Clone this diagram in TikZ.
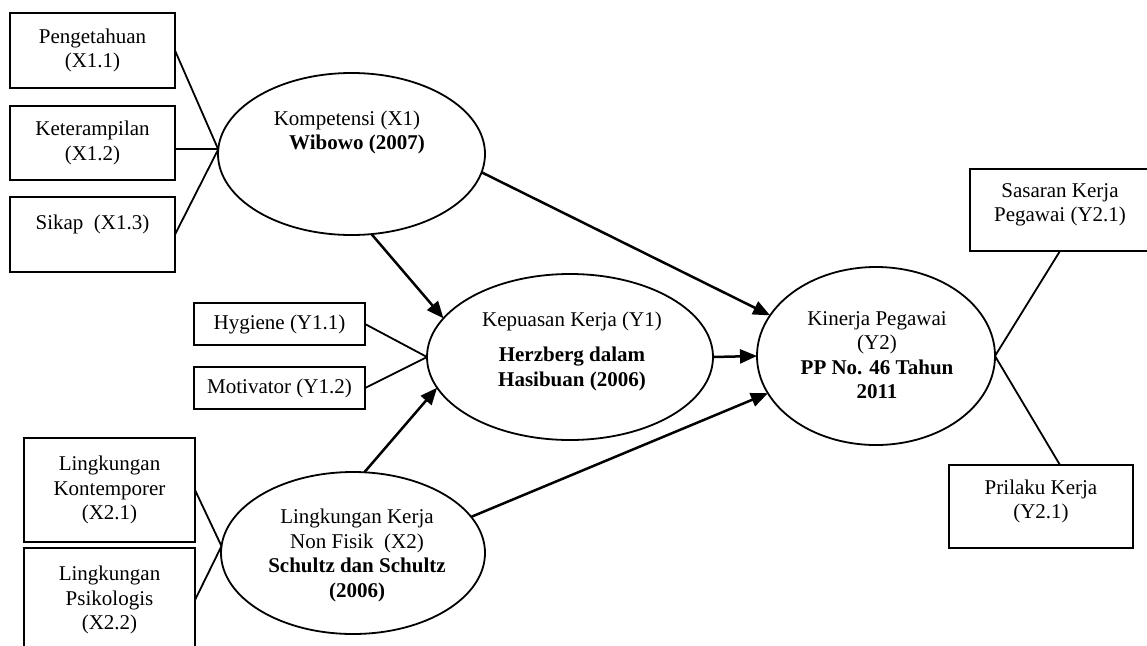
\documentclass[tikz,border=0pt]{standalone}
\usepackage{fontspec}
\setmainfont{Liberation Serif}
\usetikzlibrary{arrows.meta,shapes.geometric}
\begin{document}
\begin{tikzpicture}[x=1pt,y=-1pt,
  box/.style={draw, line width=2pt, rectangle, inner sep=0pt, outer sep=0pt, align=center, font=\fontsize{21}{24.5}\selectfont},
  ell/.style={draw, line width=1.8pt, ellipse, inner sep=0pt, outer sep=0pt},
  txt/.style={align=center, inner sep=0pt, font=\fontsize{21}{24.5}\selectfont},
  link/.style={line width=1.8pt},
  arr/.style={line width=2.5pt, -{Triangle[length=17pt,width=14pt]}}]
\useasboundingbox (0,0) rectangle (1147,645);
% indicator boxes
\node[box, minimum width=165pt, minimum height=75pt] (pen) at (92.5,50.5) {Pengetahuan\\(X1.1)};
\node[box, minimum width=165pt, minimum height=74pt] (ket) at (92.5,143) {Keterampilan\\(X1.2)};
\node[box, minimum width=165pt, minimum height=75pt] (sik) at (92.5,234.5) {Sikap~~(X1.3)\\\mbox{}};
\node[box, minimum width=171pt, minimum height=42pt] (hyg) at (279.5,324) {Hygiene (Y1.1)};
\node[box, minimum width=171pt, minimum height=42pt] (mot) at (279.5,388) {Motivator (Y1.2)};
\node[box, minimum width=171pt, minimum height=104pt] (kon) at (109.5,490) {Lingkungan\\Kontemporer\\(X2.1)};
\node[box, minimum width=171pt, minimum height=104pt] (psi) at (109.5,600) {Lingkungan\\Psikologis\\(X2.2)};
\node[box, minimum width=180pt, minimum height=82pt] (sas) at (1060,210) {Sasaran Kerja\\Pegawai (Y2.1)\\[-10pt]\mbox{}};
\node[box, minimum width=184pt, minimum height=83pt] (pri) at (1041,506.5) {Prilaku Kerja\\(Y2.1)\\[-10pt]\mbox{}};
% latent variables
\node[ell, minimum width=267pt, minimum height=162pt] (x1) at (351.5,154) {};
\node[ell, minimum width=286pt, minimum height=166pt] (y1) at (570,357) {};
\node[ell, minimum width=264pt, minimum height=162pt] (x2) at (353,553) {};
\node[ell, minimum width=238pt, minimum height=178pt] (y2) at (876,356) {};
\node[txt] (tx1) at (347,132.5) {Kompetensi (X1)\\\hspace*{20pt}\textbf{Wibowo (2007)}};
\node[txt] (ty1) at (572,351) {Kepuasan Kerja (Y1)\\[11pt]\textbf{Herzberg dalam}\\\textbf{Hasibuan (2006)}};
\node[txt] (ty2) at (877,355) {Kinerja Pegawai\\(Y2)\\\textbf{PP No. 46 Tahun}\\\textbf{2011}};
\node[txt] (tx2) at (357,555.5) {Lingkungan Kerja\\Non Fisik~~(X2)\\\textbf{Schultz dan Schultz}\\\textbf{(2006)}};
% indicator links
\draw[link] (pen.east) -- (x1.178);
\draw[link] (ket.east |- x1.178) -- (x1.178);
\draw[link] (sik.east) -- (x1.178);
\draw[link] (hyg.east) -- (y1.west);
\draw[link] (mot.east) -- (y1.west);
\draw[link] (kon.east) -- (x2.177);
\draw[link] (psi.east) -- (x2.177);
\draw[link] (y2.east) -- (sas.south);
\draw[link] (y2.east) -- ([xshift=19pt]pri.north);
% structural paths
\draw[arr] (x1.-76) -- (y1.163);
\draw[arr] (x1.-8) -- (y2.159);
\draw[arr] (y1.east) -- (y2.west);
\draw[arr] (x2.82) -- (y1.193);
\draw[arr] (x2.17) -- (y2.199);
\end{tikzpicture}
\end{document}
